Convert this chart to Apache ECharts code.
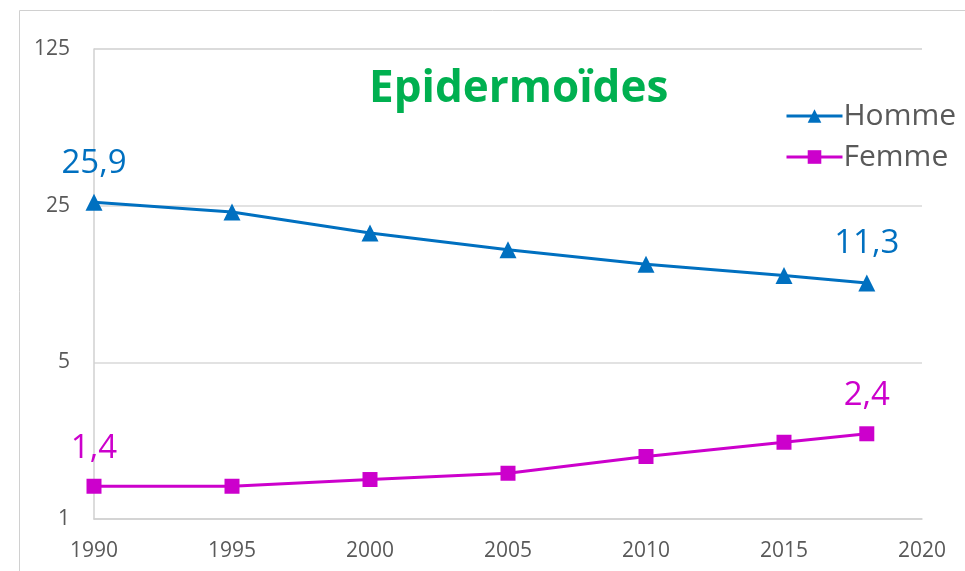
<!DOCTYPE html>
<html>
<head>
<meta charset="utf-8">
<script src="https://cdn.jsdelivr.net/npm/echarts@6/dist/echarts.min.js"></script>
<style>
html,body{margin:0;padding:0;background:#fff;}
#chart{width:965px;height:571px;}
</style>
</head>
<body>
<div id="chart"></div>
<script>
// données
var years = [1990, 1995, 2000, 2005, 2010, 2015, 2018];
var homme = [25.9, 23.4, 18.9, 15.9, 13.7, 12.2, 11.3];
var femme = [1.4, 1.4, 1.5, 1.6, 1.9, 2.2, 2.4];
var xTicks = [1990, 1995, 2000, 2005, 2010, 2015, 2020];
var yTicks = [1, 5, 25, 125];

var FONT = '"Open Sans", sans-serif';

function pairs(vals) {
	var out = [];
	for (var i = 0; i < years.length; i++) {
		out.push([years[i], vals[i]]);
	}
	return out;
}

// seulement la première et la dernière valeur sont affichées
function endLabel(params) {
	var n = years.length - 1;
	if (params.dataIndex == 0 || params.dataIndex == n) {
		return String(params.value[1]).replace('.', ',');
	}
	return '';
}

var chart = echarts.init(document.getElementById('chart'));
var option = {
	animation: false,
	textStyle: { fontFamily: FONT },
	graphic: [{
		type: 'rect',
		left: 17, top: 8,
		shape: { width: 1000, height: 600 },
		style: { fill: 'none', stroke: '#d0d0d0', lineWidth: 1 },
		silent: true
	}],
	title: {
		text: 'Epidermoïdes',
		left: 364, top: 62,
		textStyle: { color: '#00B050', fontSize: 44, fontWeight: 'bold', fontFamily: FONT }
	},
	legend: {
		orient: 'vertical',
		left: 780, top: 96,
		itemWidth: 56, itemHeight: 17, itemGap: 11,
		lineStyle: { width: 3 },
		textStyle: { color: '#595959', fontSize: 30, fontFamily: FONT, padding: [0, 0, 0, -4] },
		data: ['Homme', 'Femme']
	},
	grid: { left: 94, right: 43, top: 49, bottom: 52 },
	xAxis: {
		type: 'value',
		min: 1990, max: 2020, interval: 5,
		axisLine: { show: true, lineStyle: { color: '#d0d0d0', width: 1.5 } },
		axisTick: { show: false },
		splitLine: { show: false },
		axisLabel: { color: '#595959', fontSize: 21, margin: 22, fontFamily: FONT,
			formatter: function(v) { return String(v); } }
	},
	yAxis: {
		type: 'log', logBase: 5,
		min: 1, max: 125,
		axisLine: { show: true, lineStyle: { color: '#d0d0d0', width: 1.5 } },
		axisTick: { show: false },
		splitLine: { show: true, lineStyle: { color: '#d9d9d9', width: 1.5 } },
		axisLabel: { color: '#595959', fontSize: 21, margin: 24, fontFamily: FONT }
	},
	series: [{
		name: 'Homme',
		type: 'line',
		data: pairs(homme),
		symbol: 'triangle', symbolSize: 17,
		itemStyle: { color: '#0070C0' },
		lineStyle: { color: '#0070C0', width: 3 },
		label: { show: true, position: 'top', distance: 14, color: '#0070C0', fontSize: 33, fontFamily: FONT, formatter: endLabel }
	}, {
		name: 'Femme',
		type: 'line',
		data: pairs(femme),
		symbol: 'rect', symbolSize: 15,
		itemStyle: { color: '#CC00CC' },
		lineStyle: { color: '#CC00CC', width: 3 },
		label: { show: true, position: 'top', distance: 14, color: '#CC00CC', fontSize: 33, fontFamily: FONT, formatter: endLabel }
	}]
};
chart.setOption(option);
</script>
</body>
</html>
